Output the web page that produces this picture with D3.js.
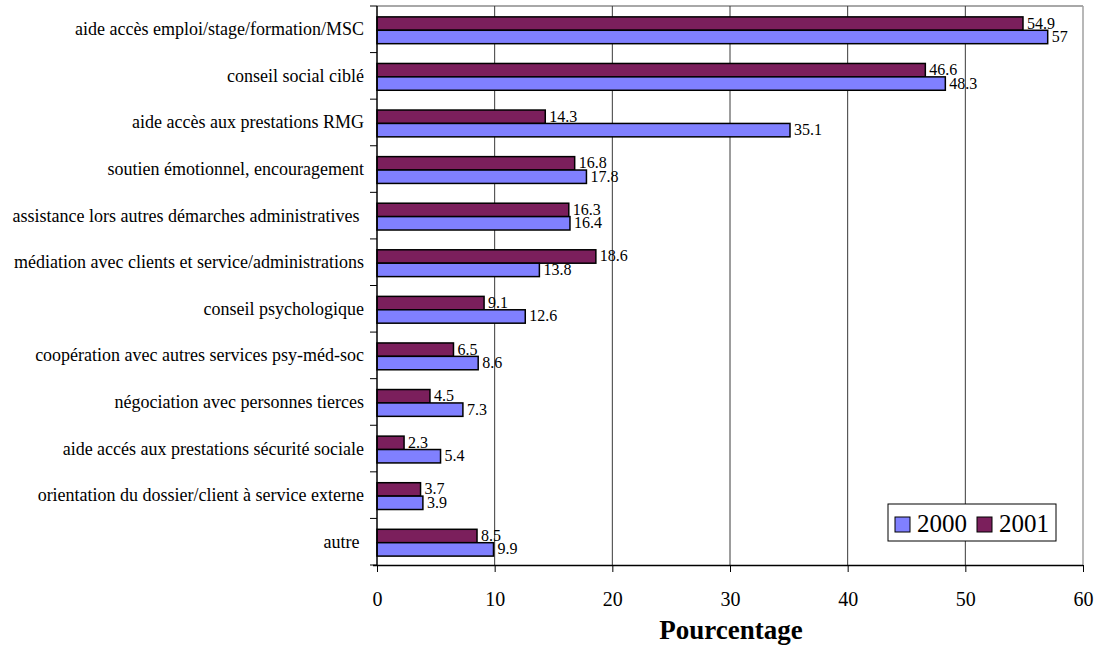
<!DOCTYPE html>
<html>
<head>
<meta charset="utf-8">
<script src="https://cdn.jsdelivr.net/npm/d3@7"></script>
<style>
  html, body { margin: 0; padding: 0; background: #fff; }
  svg { display: block; }
  svg text { font-family: "Liberation Serif", "Times New Roman", serif; white-space: pre; }
</style>
</head>
<body>
<svg id="chart" width="1098" height="648" font-family="Liberation Serif, Times New Roman, serif"></svg>
<script>
// Activités d'accompagnement social, en % des dossiers
const categories = [
  "aide accès emploi/stage/formation/MSC",
  "conseil social ciblé",
  "aide accès aux prestations RMG",
  "soutien émotionnel, encouragement",
  "assistance lors autres démarches administratives ",
  "médiation avec clients et service/administrations",
  "conseil psychologique",
  "coopération avec autres services psy-méd-soc",
  "négociation avec personnes tierces",
  "aide accés aux prestations sécurité sociale",
  "orientation du dossier/client à service externe",
  "autre "
];
const values2000 = [57, 48.3, 35.1, 17.8, 16.4, 13.8, 12.6, 8.6, 7.3, 5.4, 3.9, 9.9];
const values2001 = [54.9, 46.6, 14.3, 16.8, 16.3, 18.6, 9.1, 6.5, 4.5, 2.3, 3.7, 8.5];
const seriesNames = ["2000", "2001"];
const xTicks = [0, 10, 20, 30, 40, 50, 60];
const xTitle = "Pourcentage";

const FONT = "Liberation Serif, Times New Roman, serif";
const colors = { "2000": "#8080ff", "2001": "#7b1f5c" };

const svg = d3.select("#chart");
const plot = { left: 377, right: 1083, top: 6, bottom: 565 };

const x = d3.scaleLinear().domain([0, 60]).range([plot.left, plot.right]);
const y = d3.scaleBand().domain(categories).range([plot.top, plot.bottom]).padding(0);
// 2001 sits above 2000 inside each category band
const inner = d3.scaleBand().domain(["2001", "2000"]).range([0, y.bandwidth()])
  .paddingInner(0).paddingOuter(0.738).align(0.55);

const rows = categories.map((c, i) => ({ cat: c, "2000": values2000[i], "2001": values2001[i] }));

// plot frame (light grey top and right edges)
svg.append("line").attr("x1", plot.left).attr("x2", plot.right)
  .attr("y1", plot.top).attr("y2", plot.top)
  .attr("stroke", "#a8a8a8").attr("stroke-width", 2);
svg.append("line").attr("x1", plot.right).attr("x2", plot.right)
  .attr("y1", plot.top).attr("y2", plot.bottom)
  .attr("stroke", "#a0a0a0").attr("stroke-width", 1.5);

// vertical gridlines
svg.append("g").selectAll("line")
  .data(xTicks.filter(t => t > 0 && t < 60))
  .join("line")
  .attr("x1", d => x(d)).attr("x2", d => x(d))
  .attr("y1", plot.top).attr("y2", plot.bottom)
  .attr("stroke", "#3a3a3a").attr("stroke-width", 1);

// bars
const groups = svg.append("g").selectAll("g")
  .data(rows).join("g")
  .attr("transform", d => `translate(0,${y(d.cat)})`);

["2001", "2000"].forEach(s => {
  groups.append("rect")
    .attr("x", x(0))
    .attr("y", inner(s))
    .attr("width", d => x(d[s]) - x(0))
    .attr("height", inner.bandwidth())
    .attr("fill", colors[s])
    .attr("stroke", "#000")
    .attr("stroke-width", 1.5);
  groups.append("text")
    .attr("x", d => x(d[s]) + 4)
    .attr("y", inner(s) + inner.bandwidth() / 2 + 5)
    .attr("font-family", FONT)
    .attr("font-size", 16)
    .attr("fill", "#000")
    .text(d => d3.format("")(d[s]));
});

// y axis
const yAxis = svg.append("g").attr("transform", `translate(${plot.left},0)`);
yAxis.append("line").attr("x1", 0).attr("x2", 0)
  .attr("y1", plot.top).attr("y2", plot.bottom).attr("stroke", "#000").attr("stroke-width", 1.5);
yAxis.selectAll("line.tick")
  .data(d3.range(categories.length + 1))
  .join("line").attr("class", "tick")
  .attr("x1", -7).attr("x2", 0)
  .attr("y1", i => plot.top + i * y.step()).attr("y2", i => plot.top + i * y.step())
  .attr("stroke", "#000").attr("stroke-width", 1);
yAxis.selectAll("text")
  .data(categories).join("text")
  .attr("x", -13)
  .attr("y", d => y(d) + y.bandwidth() / 2 + 6)
  .attr("text-anchor", "end")
  .attr("font-family", FONT)
  .attr("font-size", 18)
  .attr("fill", "#000")
  .text(d => d);

// x axis
const xAxis = d3.axisBottom(x).tickValues(xTicks).tickSize(7).tickPadding(20).tickFormat(d3.format("d"));
const gx = svg.append("g").attr("transform", `translate(0,${plot.bottom})`).call(xAxis)
  .attr("font-family", FONT);
gx.select(".domain").attr("d", `M${plot.left - 4},0.5H${plot.right}`).attr("stroke", "#000").attr("stroke-width", 1.5);
gx.selectAll(".tick line").attr("stroke", "#000");
gx.selectAll(".tick text")
  .attr("font-family", FONT)
  .attr("font-size", 20).attr("fill", "#000");

svg.append("text")
  .attr("x", 731)
  .attr("y", 639)
  .attr("text-anchor", "middle")
  .attr("font-family", FONT)
  .attr("font-size", 27)
  .attr("font-weight", "bold")
  .attr("fill", "#000")
  .text(xTitle);

// legend
const legend = svg.append("g").attr("transform", "translate(888,504)");
legend.append("rect").attr("width", 168).attr("height", 37)
  .attr("fill", "#fff").attr("stroke", "#000").attr("stroke-width", 1);
const legendItems = legend.selectAll("g").data(seriesNames).join("g")
  .attr("transform", (d, i) => `translate(${7 + i * 82},13)`);
legendItems.append("rect").attr("width", 15).attr("height", 15)
  .attr("fill", d => colors[d]).attr("stroke", "#000").attr("stroke-width", 1);
legendItems.append("text").attr("x", 22).attr("y", 15)
  .attr("font-family", FONT)
  .attr("font-size", 25).attr("fill", "#000").text(d => d);
</script>
</body>
</html>
